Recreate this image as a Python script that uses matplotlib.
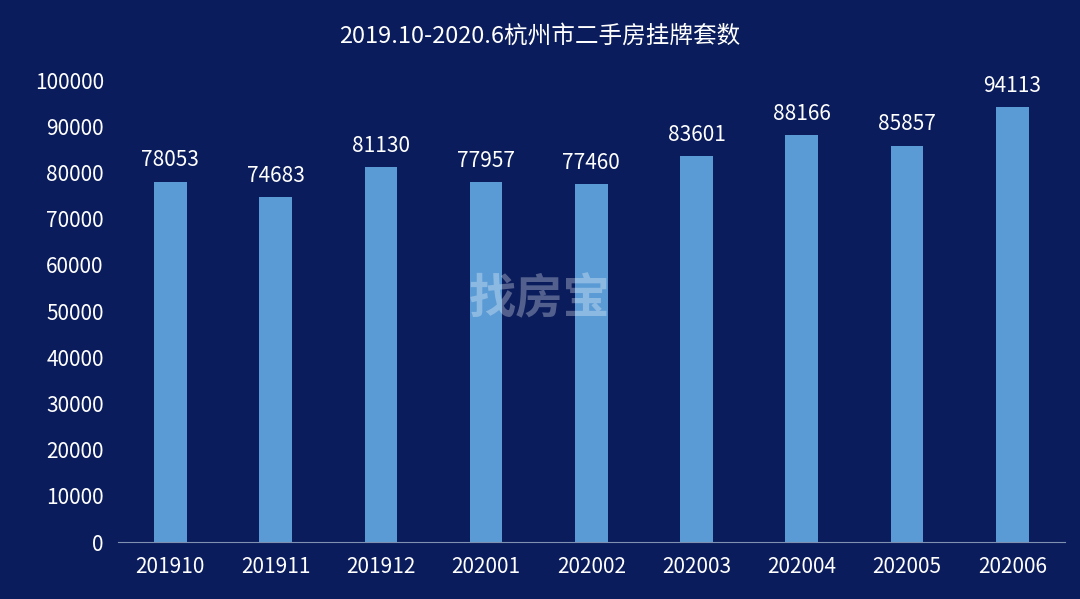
import matplotlib.pyplot as plt

plt.rcParams['font.family'] = ['Noto Sans CJK SC', 'DejaVu Sans']

months = ['201910', '201911', '201912', '202001', '202002', '202003', '202004', '202005', '202006']
listings = [78053, 74683, 81130, 77957, 77460, 83601, 88166, 85857, 94113]
yticks = list(range(0, 100001, 10000))

bg = '#0a1c5c'
fig = plt.figure(figsize=(10.8, 5.99), dpi=100, facecolor=bg)
ax = fig.add_axes([0.109, 0.095, 0.877, 0.771], facecolor=bg)

x = range(len(months))
ax.bar(x, listings, width=0.31, color='#5b9bd5')
for i, v in zip(x, listings):
    ax.text(i, v + 2200, str(v), ha='center', va='bottom', color='white', fontsize=15)

ax.set_xticks(list(x))
ax.set_xticklabels(months, color='white', fontsize=15)
ax.set_yticks(yticks)
ax.set_yticklabels([str(t) for t in yticks], color='white', fontsize=15)
ax.set_ylim(0, 100000)
ax.set_xlim(-0.5, len(months) - 0.5)
ax.tick_params(length=0, pad=10)
for s in ['top', 'right', 'left']:
    ax.spines[s].set_visible(False)
ax.spines['bottom'].set_color('#8090b0')

fig.text(0.5, 0.94, '2019.10-2020.6杭州市二手房挂牌套数', ha='center', va='center',
         color='white', fontsize=17)
fig.text(0.5, 0.5, '找房宝', ha='center', va='center', color='white', alpha=0.3,
         fontsize=34, fontweight='bold')

fig.savefig('out.png', dpi=100, facecolor=bg)
